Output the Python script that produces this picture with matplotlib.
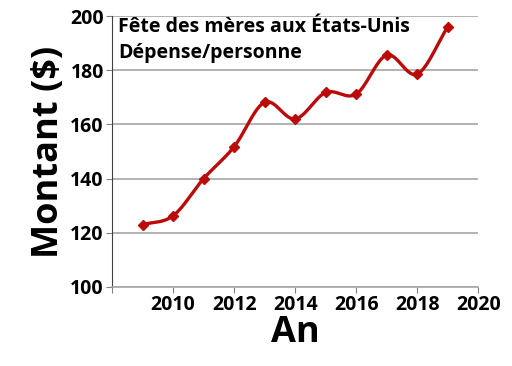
import numpy as np
import matplotlib
matplotlib.use("Agg")
import matplotlib.pyplot as plt

plt.rcParams['font.family'] = ['Open Sans', 'DejaVu Sans']

# data
years = [2009, 2010, 2011, 2012, 2013, 2014, 2015, 2016, 2017, 2018, 2019]
spend = [123.0, 126.3, 140.0, 151.8, 168.2, 162.0, 171.8, 171.2, 185.6, 178.6, 196.0]
x_ticks = [2008, 2010, 2012, 2014, 2016, 2018, 2020]
x_labels = ['', '2010', '2012', '2014', '2016', '2018', '2020']
y_ticks = [100, 120, 140, 160, 180, 200]


def catmull_rom(xs, ys, n=30):
    # smooth curve through the points (like Excel's "smoothed line")
    px = np.array(xs, float)
    py = np.array(ys, float)
    px = np.concatenate([[2 * px[0] - px[1]], px, [2 * px[-1] - px[-2]]])
    py = np.concatenate([[2 * py[0] - py[1]], py, [2 * py[-1] - py[-2]]])
    out_x, out_y = [], []
    t = np.linspace(0, 1, n)
    for i in range(1, len(px) - 2):
        for arr, out in ((px, out_x), (py, out_y)):
            p0, p1, p2, p3 = arr[i - 1], arr[i], arr[i + 1], arr[i + 2]
            out.extend(0.5 * ((2 * p1) + (-p0 + p2) * t
                              + (2 * p0 - 5 * p1 + 4 * p2 - p3) * t**2
                              + (-p0 + 3 * p1 - 3 * p2 + p3) * t**3))
    return np.array(out_x), np.array(out_y)


fig = plt.figure(figsize=(5.12, 3.66), dpi=100)
ax = fig.add_axes([0.219, 0.216, 0.715, 0.740])

red = '#bb0a0a'
sx, sy = catmull_rom(years, spend)
ax.plot(sx, sy, color=red, linewidth=2.4, zorder=3)
ax.plot(years, spend, linestyle='none', marker='D', markersize=5,
        color=red, zorder=4)

ax.set_xlim(2008, 2020)
ax.set_ylim(100, 200)
ax.set_xticks(x_ticks)
ax.set_xticklabels(x_labels)
ax.set_yticks(y_ticks)
ax.yaxis.grid(True, color='#a6a6a6', linewidth=1.2)
ax.set_axisbelow(True)

for s in ('top', 'right'):
    ax.spines[s].set_visible(False)
ax.spines['left'].set_color('#404040')
ax.spines['bottom'].set_color('#a6a6a6')
ax.spines['bottom'].set_linewidth(1.2)
ax.tick_params(axis='both', labelsize=14, length=4, color='#808080', pad=2)
for lab in ax.get_xticklabels() + ax.get_yticklabels():
    lab.set_fontweight('bold')

ax.set_xlabel('An', fontsize=26, fontweight='bold', labelpad=0)
ax.set_ylabel('Montant ($)', fontsize=26, fontweight='bold', labelpad=2)

ax.text(0.016, 0.998, 'Fête des mères aux États-Unis\nDépense/personne',
        transform=ax.transAxes, ha='left', va='top', fontsize=14,
        fontweight='bold', linespacing=1.45, zorder=5)

fig.savefig('out.png', dpi=100)
